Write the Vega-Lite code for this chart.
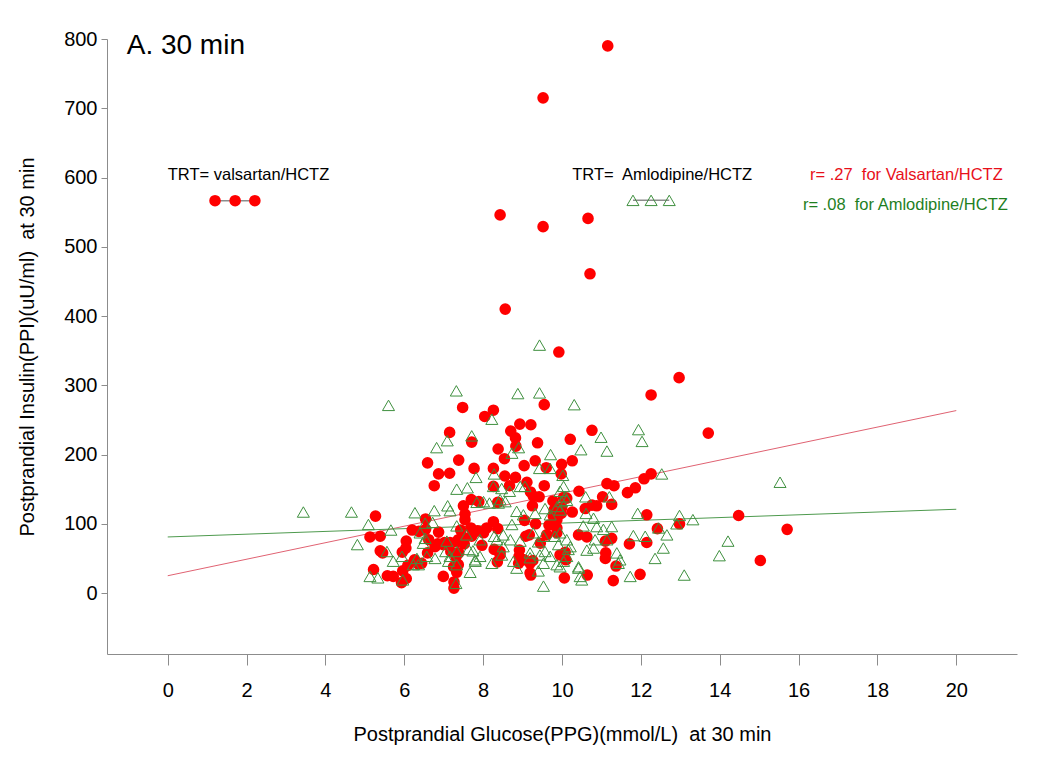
{
  "$schema": "https://vega.github.io/schema/vega-lite/v6.json",
  "width": 910,
  "height": 615,
  "autosize": {"type": "none"},
  "padding": {"left": 107, "top": 39, "right": 33, "bottom": 111},
  "background": "white",
  "config": {
    "view": {"stroke": null},
    "axis": {"grid": false, "domainColor": "#8c8c8c", "tickColor": "#8c8c8c", "labelFont": "Liberation Sans", "titleFont": "Liberation Sans", "labelFontSize": 20, "titleFontSize": 20, "labelColor": "#000", "titleColor": "#000", "titleFontWeight": "normal"}
  },
  "datasets": {
    "fit": [
      {"g": "V", "x": 0, "y": 25}, {"g": "V", "x": 20, "y": 263.5},
      {"g": "A", "x": 0, "y": 81}, {"g": "A", "x": 20, "y": 121}
    ],
    "val": [
      {"x":11.16,"y":790},{"x":9.52,"y":715},{"x":8.43,"y":546},{"x":9.52,"y":529},{"x":10.66,"y":541},{"x":10.71,"y":461},{"x":8.56,"y":410},{"x":9.92,"y":348},
      {"x":12.97,"y":311},{"x":12.26,"y":286},{"x":7.48,"y":268},{"x":8.26,"y":264},{"x":8.04,"y":255},{"x":9.55,"y":272},{"x":8.93,"y":244},{"x":9.21,"y":243},
      {"x":8.70,"y":234},{"x":10.76,"y":235},{"x":7.15,"y":232},{"x":8.82,"y":224},{"x":7.71,"y":218},{"x":9.38,"y":217},{"x":10.21,"y":222},{"x":8.83,"y":212},
      {"x":8.38,"y":208},{"x":13.71,"y":231},{"x":8.54,"y":194},{"x":6.59,"y":188},{"x":7.38,"y":192},{"x":9.32,"y":191},{"x":10.26,"y":191},{"x":9.99,"y":186},
      {"x":6.87,"y":172},{"x":7.15,"y":173},{"x":7.77,"y":180},{"x":8.26,"y":180},{"x":9.04,"y":184},{"x":9.60,"y":181},{"x":9.98,"y":172},{"x":8.55,"y":169},
      {"x":8.82,"y":167},{"x":6.76,"y":155},{"x":8.26,"y":154},{"x":8.67,"y":155},{"x":9.55,"y":155},{"x":11.14,"y":158},{"x":11.32,"y":155},{"x":9.11,"y":160},
      {"x":12.08,"y":165},{"x":12.26,"y":172},{"x":10.43,"y":147},{"x":9.20,"y":146},{"x":9.27,"y":140},{"x":9.42,"y":139},{"x":11.66,"y":145},{"x":11.86,"y":152},
      {"x":11.03,"y":139},{"x":7.50,"y":126},{"x":7.70,"y":135},{"x":7.89,"y":132},{"x":8.37,"y":131},{"x":7.54,"y":114},{"x":9.25,"y":126},{"x":9.77,"y":133},
      {"x":10.04,"y":138},{"x":10.12,"y":137},{"x":9.80,"y":120},{"x":9.99,"y":123},{"x":10.59,"y":122},{"x":10.76,"y":127},{"x":10.88,"y":126},{"x":11.26,"y":128},
      {"x":10.26,"y":117},{"x":9.98,"y":115},{"x":12.15,"y":113},{"x":12.98,"y":100},{"x":5.27,"y":111},{"x":6.54,"y":107},{"x":9.05,"y":105},{"x":9.33,"y":100},
      {"x":9.67,"y":98},{"x":9.87,"y":94},{"x":6.20,"y":91},{"x":6.37,"y":89},{"x":6.87,"y":88},{"x":7.43,"y":91},{"x":7.69,"y":94},{"x":7.86,"y":90},
      {"x":8.09,"y":94},{"x":8.26,"y":103},{"x":8.37,"y":93},{"x":5.13,"y":81},{"x":5.39,"y":82},{"x":6.05,"y":75},{"x":6.62,"y":77},{"x":6.85,"y":71},
      {"x":7.02,"y":73},{"x":7.16,"y":73},{"x":7.33,"y":74},{"x":7.47,"y":82},{"x":7.71,"y":82},{"x":7.52,"y":71},{"x":8.01,"y":87},{"x":9.08,"y":82},
      {"x":9.17,"y":84},{"x":9.45,"y":72},{"x":9.61,"y":84},{"x":9.87,"y":87},{"x":10.42,"y":84},{"x":10.63,"y":81},{"x":11.10,"y":75},{"x":11.26,"y":79},
      {"x":11.71,"y":71},{"x":12.15,"y":73},{"x":5.39,"y":61},{"x":5.45,"y":58},{"x":5.95,"y":59},{"x":6.04,"y":65},{"x":6.59,"y":58},{"x":6.78,"y":67},
      {"x":7.18,"y":60},{"x":7.38,"y":58},{"x":7.97,"y":69},{"x":8.28,"y":63},{"x":8.43,"y":60},{"x":8.92,"y":62},{"x":8.91,"y":53},{"x":9.19,"y":43},
      {"x":10.08,"y":59},{"x":10.04,"y":55},{"x":11.11,"y":58},{"x":11.10,"y":50},{"x":11.37,"y":39},{"x":6.26,"y":48},{"x":6.35,"y":42},{"x":5.22,"y":34},
      {"x":5.57,"y":25},{"x":5.72,"y":24},{"x":5.93,"y":15},{"x":6.05,"y":21},{"x":6.99,"y":24},{"x":7.25,"y":38},{"x":7.33,"y":30},{"x":7.26,"y":16},
      {"x":7.26,"y":7},{"x":8.36,"y":45},{"x":8.90,"y":43},{"x":9.04,"y":48},{"x":9.26,"y":47},{"x":9.21,"y":26},{"x":10.06,"y":22},{"x":10.64,"y":26},
      {"x":11.30,"y":18},{"x":11.98,"y":27},{"x":14.48,"y":112},{"x":15.71,"y":92},{"x":15.03,"y":47},{"x":12.42,"y":93},{"x":6.54,"y":92},{"x":5.96,"y":32},
      {"x":6.09,"y":40},{"x":9.78,"y":111},{"x":9.87,"y":106},{"x":7.54,"y":106},{"x":7.75,"y":87},{"x":7.37,"y":77},{"x":6.99,"y":70},{"x":6.44,"y":43},
      {"x":7.31,"y":52},{"x":7.37,"y":41},{"x":8.43,"y":55},{"x":9.19,"y":29},{"x":9.95,"y":55},{"x":10.10,"y":48}
    ],
    "aml": [
      {"x":3.44,"y":117},{"x":4.66,"y":117},{"x":4.81,"y":70},{"x":5.60,"y":271},{"x":7.32,"y":292},{"x":8.88,"y":288},{"x":9.43,"y":289},{"x":9.43,"y":358},
      {"x":10.31,"y":272},{"x":8.22,"y":251},{"x":11.94,"y":236},{"x":12.03,"y":219},{"x":10.99,"y":225},{"x":11.14,"y":205},{"x":10.48,"y":207},{"x":9.71,"y":200},
      {"x":8.90,"y":210},{"x":8.73,"y":202},{"x":7.71,"y":227},{"x":7.09,"y":220},{"x":6.82,"y":210},{"x":7.33,"y":150},{"x":7.60,"y":152},{"x":7.82,"y":167},
      {"x":5.09,"y":99},{"x":5.66,"y":91},{"x":6.27,"y":116},{"x":6.76,"y":119},{"x":7.10,"y":126},{"x":7.16,"y":119},{"x":6.53,"y":101},{"x":6.72,"y":102},
      {"x":7.33,"y":97},{"x":7.58,"y":84},{"x":5.56,"y":60},{"x":5.72,"y":46},{"x":5.94,"y":53},{"x":6.32,"y":50},{"x":6.23,"y":41},{"x":6.36,"y":41},
      {"x":6.57,"y":53},{"x":6.78,"y":50},{"x":5.13,"y":24},{"x":5.33,"y":22},{"x":5.96,"y":19},{"x":7.05,"y":60},{"x":7.12,"y":46},{"x":7.33,"y":41},
      {"x":7.31,"y":14},{"x":7.67,"y":30},{"x":7.80,"y":46},{"x":7.74,"y":61},{"x":8.28,"y":172},{"x":8.26,"y":154},{"x":8.47,"y":151},{"x":9.06,"y":154},
      {"x":9.43,"y":180},{"x":9.70,"y":180},{"x":10.04,"y":154},{"x":9.95,"y":147},{"x":10.60,"y":139},{"x":12.53,"y":172},{"x":7.84,"y":131},{"x":8.01,"y":132},
      {"x":8.39,"y":130},{"x":8.56,"y":132},{"x":8.85,"y":118},{"x":9.02,"y":113},{"x":9.57,"y":122},{"x":9.70,"y":113},{"x":9.88,"y":125},{"x":9.99,"y":132},
      {"x":10.08,"y":139},{"x":8.73,"y":99},{"x":8.51,"y":84},{"x":8.28,"y":82},{"x":8.35,"y":77},{"x":9.27,"y":87},{"x":9.53,"y":82},{"x":9.40,"y":74},
      {"x":9.95,"y":87},{"x":10.12,"y":77},{"x":9.91,"y":70},{"x":10.54,"y":97},{"x":10.88,"y":96},{"x":10.84,"y":77},{"x":10.63,"y":62},{"x":10.42,"y":38},
      {"x":11.05,"y":92},{"x":11.26,"y":96},{"x":11.81,"y":83},{"x":12.11,"y":82},{"x":12.45,"y":94},{"x":12.66,"y":84},{"x":12.57,"y":65},{"x":11.39,"y":58},
      {"x":11.43,"y":43},{"x":11.73,"y":24},{"x":12.36,"y":50},{"x":10.80,"y":65},{"x":11.14,"y":77},{"x":7.08,"y":75},{"x":7.33,"y":60},{"x":7.80,"y":48},
      {"x":8.22,"y":43},{"x":8.77,"y":46},{"x":8.85,"y":36},{"x":9.53,"y":43},{"x":9.40,"y":32},{"x":9.53,"y":10},{"x":9.95,"y":38},{"x":10.21,"y":67},
      {"x":10.12,"y":53},{"x":10.42,"y":36},{"x":10.50,"y":19},{"x":9.70,"y":53},{"x":10.04,"y":46},{"x":7.92,"y":77},{"x":6.40,"y":87},{"x":6.53,"y":79},
      {"x":9.57,"y":60},{"x":9.19,"y":58},{"x":15.53,"y":160},{"x":11.92,"y":115},{"x":12.98,"y":112},{"x":13.32,"y":106},{"x":12.91,"y":100},{"x":14.21,"y":75},
      {"x":13.99,"y":54},{"x":13.10,"y":26},{"x":10.80,"y":108},{"x":11.20,"y":139},{"x":10.02,"y":170},{"x":8.16,"y":130},{"x":8.69,"y":77},{"x":8.94,"y":75},
      {"x":6.48,"y":72},{"x":7.16,"y":53},{"x":7.63,"y":63},{"x":7.92,"y":53},{"x":8.47,"y":55},{"x":8.51,"y":67},{"x":9.19,"y":51},{"x":9.44,"y":55},
      {"x":9.87,"y":41},{"x":10.16,"y":63},{"x":10.46,"y":24},{"x":11.47,"y":48},{"x":9.82,"y":82},{"x":10.61,"y":115},{"x":9.32,"y":115},{"x":9.95,"y":120},
      {"x":10.12,"y":134},{"x":8.43,"y":135},{"x":8.67,"y":147},{"x":8.94,"y":154}
    ],
    "legline": [
      {"g": "V", "x": 1.2, "y": 566.5}, {"g": "V", "x": 2.21, "y": 566.5},
      {"g": "A", "x": 11.8, "y": 567}, {"g": "A", "x": 12.72, "y": 567}
    ],
    "legval": [{"x": 1.2, "y": 566.5}, {"x": 1.71, "y": 566.5}, {"x": 2.21, "y": 566.5}],
    "legaml": [{"x": 11.8, "y": 567}, {"x": 12.26, "y": 567}, {"x": 12.72, "y": 567}],
    "txtblack": [
      {"x": 0.0, "y": 603.6, "label": "TRT= valsartan/HCTZ"},
      {"x": 10.26, "y": 603.6, "label": "TRT=\u00a0 Amlodipine/HCTZ"}
    ],
    "txtred": [{"x": 16.29, "y": 603.6, "label": "r= .27\u00a0 for Valsartan/HCTZ"}],
    "txtgreen": [{"x": 16.11, "y": 560.3, "label": "r= .08\u00a0 for Amlodipine/HCTZ"}],
    "txttitle": [{"x": -1.04, "y": 789.8, "label": "A. 30 min"}]
  },
  "encoding": {
    "x": {"field": "x", "type": "quantitative",
      "scale": {"domain": [-1.54, 21.54], "nice": false, "zero": false},
      "axis": {"values": [0,2,4,6,8,10,12,14,16,18,20], "tickSize": 11, "labelPadding": 15, "titlePadding": 24, "title": "Postprandial Glucose(PPG)(mmol/L)\u00a0 at 30 min"}},
    "y": {"field": "y", "type": "quantitative",
      "scale": {"domain": [-88, 800], "nice": false, "zero": false},
      "axis": {"values": [0,100,200,300,400,500,600,700,800], "tickSize": 6, "labelPadding": 4, "titlePadding": 26, "title": "Postprandial Insulin(PPI)(uU/ml)\u00a0 at 30 min"}}
  },
  "layer": [
    {"data": {"name": "fit"}, "mark": {"type": "line", "strokeWidth": 1},
     "encoding": {"color": {"field": "g", "type": "nominal", "scale": {"domain": ["V", "A"], "range": ["#E06272", "#4E9A4E"]}, "legend": null}}},
    {"data": {"name": "val"}, "mark": {"type": "point", "shape": "circle", "filled": true, "color": "#FF0000", "opacity": 1, "size": 135}},
    {"data": {"name": "aml"}, "mark": {"type": "point", "shape": "triangle-up", "filled": false, "color": "#3F903F", "opacity": 1, "size": 145, "strokeWidth": 1}},
    {"data": {"name": "legline"}, "mark": {"type": "line", "color": "#8c8c8c", "strokeWidth": 1.5},
     "encoding": {"detail": {"field": "g", "type": "nominal"}}},
    {"data": {"name": "legval"}, "mark": {"type": "point", "shape": "circle", "filled": true, "color": "#FF0000", "opacity": 1, "size": 135}},
    {"data": {"name": "legaml"}, "mark": {"type": "point", "shape": "triangle-up", "filled": false, "color": "#3F903F", "opacity": 1, "size": 145, "strokeWidth": 1}},
    {"data": {"name": "txtblack"}, "mark": {"type": "text", "align": "left", "baseline": "middle", "font": "Liberation Sans", "fontSize": 16.5, "color": "#000"},
     "encoding": {"text": {"field": "label"}}},
    {"data": {"name": "txtred"}, "mark": {"type": "text", "align": "left", "baseline": "middle", "font": "Liberation Sans", "fontSize": 16.5, "color": "#E8101A"},
     "encoding": {"text": {"field": "label"}}},
    {"data": {"name": "txtgreen"}, "mark": {"type": "text", "align": "left", "baseline": "middle", "font": "Liberation Sans", "fontSize": 16.5, "color": "#1F7F1F"},
     "encoding": {"text": {"field": "label"}}},
    {"data": {"name": "txttitle"}, "mark": {"type": "text", "align": "left", "baseline": "middle", "font": "Liberation Sans", "fontSize": 28, "color": "#000"},
     "encoding": {"text": {"field": "label"}}}
  ]
}
